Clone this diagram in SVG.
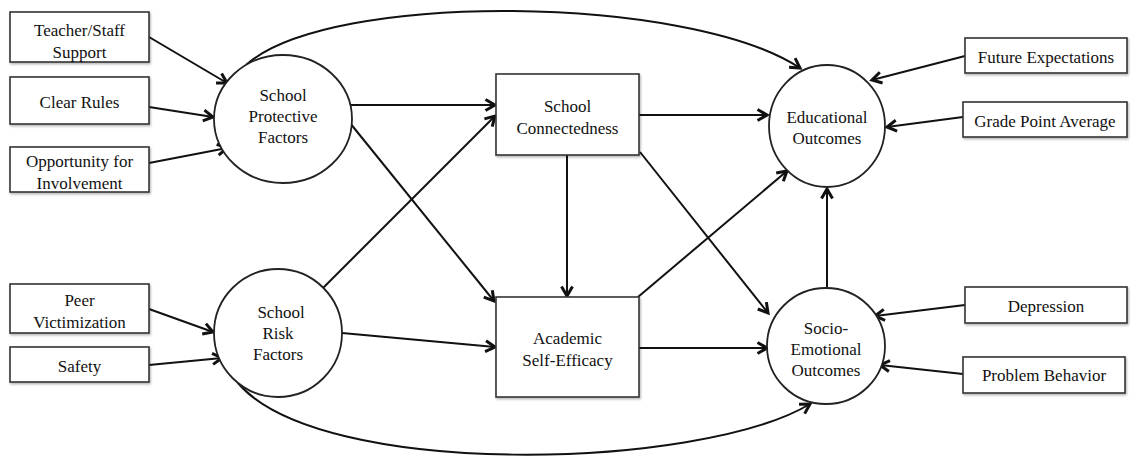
<svg xmlns="http://www.w3.org/2000/svg" width="1133" height="463" viewBox="0 0 1133 463" font-family="'Liberation Serif', serif">
  <style>
    .box { fill: #ffffff; stroke: #333333; stroke-width: 1.6; filter: url(#shadow); }
    .node { fill: #ffffff; stroke: #222222; stroke-width: 1.8; }
    .label { font-family: 'Liberation Serif', serif; font-size: 17px; fill: #111111; text-anchor: middle; }
    .edge { fill: none; stroke: #111111; stroke-width: 2; marker-end: url(#arrow); }
  </style>
  <defs>
    <filter id="shadow" x="-10%" y="-10%" width="130%" height="140%">
      <feDropShadow dx="1" dy="1.5" stdDeviation="1" flood-color="#000000" flood-opacity="0.3"/>
    </filter>
    <marker id="arrow" markerUnits="userSpaceOnUse" markerWidth="16" markerHeight="16" refX="11" refY="7" orient="auto">
      <path d="M1.5,1.5 L11,7 L1.5,12.5" fill="none" stroke="#111111" stroke-width="3" stroke-linejoin="miter"/>
    </marker>
  </defs>

  <rect width="1133" height="463" fill="#ffffff"/>

  <!-- connectors -->
  <g id="connectors">
    <!-- indicators into School Protective Factors -->
    <line class="edge" x1="149" y1="37" x2="227" y2="83"/>
    <line class="edge" x1="149" y1="107" x2="213" y2="117"/>
    <line class="edge" x1="149" y1="163" x2="227" y2="148"/>
    <!-- indicators into School Risk Factors -->
    <line class="edge" x1="149" y1="309" x2="213" y2="332"/>
    <line class="edge" x1="149" y1="365" x2="222" y2="358"/>
    <!-- latent paths -->
    <line class="edge" x1="351" y1="105" x2="495" y2="105"/>
    <line class="edge" x1="350" y1="123" x2="494" y2="301"/>
    <line class="edge" x1="323" y1="288" x2="495" y2="116"/>
    <line class="edge" x1="342" y1="333" x2="495" y2="347"/>
    <line class="edge" x1="639" y1="115" x2="767" y2="115"/>
    <line class="edge" x1="567" y1="155" x2="567" y2="296"/>
    <line class="edge" x1="640" y1="152" x2="768" y2="313"/>
    <line class="edge" x1="638" y1="297" x2="787" y2="171"/>
    <line class="edge" x1="639" y1="348" x2="767" y2="348"/>
    <line class="edge" x1="827" y1="287" x2="827" y2="189"/>
    <!-- indicators into outcomes -->
    <line class="edge" x1="965" y1="56" x2="872" y2="80"/>
    <line class="edge" x1="963" y1="117" x2="887" y2="127"/>
    <line class="edge" x1="965" y1="305" x2="875" y2="316"/>
    <line class="edge" x1="963" y1="374" x2="880" y2="365"/>
    <!-- direct paths arching over and under -->
    <path class="edge" d="M246,65 C330,-10 690,-5 800,68"/>
    <path class="edge" d="M238,383 C320,480 700,470 810,404"/>
  </g>

  <!-- indicator boxes, left -->
  <g id="teacher-staff-support">
    <rect class="box" x="10" y="12" width="139" height="50"/>
    <text class="label" x="79.5" y="36">Teacher/Staff</text>
    <text class="label" x="79.5" y="58">Support</text>
  </g>
  <g id="clear-rules">
    <rect class="box" x="10" y="77" width="139" height="47"/>
    <text class="label" x="79.5" y="108">Clear Rules</text>
  </g>
  <g id="opportunity-for-involvement">
    <rect class="box" x="10" y="147" width="139" height="45"/>
    <text class="label" x="79.5" y="167">Opportunity for</text>
    <text class="label" x="79.5" y="189">Involvement</text>
  </g>
  <g id="peer-victimization">
    <rect class="box" x="10" y="284" width="139" height="49"/>
    <text class="label" x="79.5" y="306">Peer</text>
    <text class="label" x="79.5" y="328">Victimization</text>
  </g>
  <g id="safety">
    <rect class="box" x="10" y="347" width="139" height="35"/>
    <text class="label" x="79.5" y="372">Safety</text>
  </g>

  <!-- latent factors -->
  <g id="school-protective-factors">
    <ellipse class="node" cx="283" cy="119" rx="69" ry="64"/>
    <text class="label" x="283" y="101">School</text>
    <text class="label" x="283" y="122">Protective</text>
    <text class="label" x="283" y="143">Factors</text>
  </g>
  <g id="school-risk-factors">
    <ellipse class="node" cx="278" cy="333" rx="64" ry="64"/>
    <text class="label" x="281" y="318">School</text>
    <text class="label" x="278" y="339">Risk</text>
    <text class="label" x="278" y="360">Factors</text>
  </g>

  <!-- mediators -->
  <g id="school-connectedness">
    <rect class="box" x="496" y="74" width="143" height="81"/>
    <text class="label" x="567.5" y="112">School</text>
    <text class="label" x="567.5" y="134">Connectedness</text>
  </g>
  <g id="academic-self-efficacy">
    <rect class="box" x="496" y="297" width="143" height="100"/>
    <text class="label" x="567.5" y="344">Academic</text>
    <text class="label" x="567.5" y="366">Self-Efficacy</text>
  </g>

  <!-- outcomes -->
  <g id="educational-outcomes">
    <ellipse class="node" cx="827" cy="126" rx="58" ry="61"/>
    <text class="label" x="827" y="123">Educational</text>
    <text class="label" x="827" y="144">Outcomes</text>
  </g>
  <g id="socio-emotional-outcomes">
    <ellipse class="node" cx="826" cy="346" rx="59" ry="58"/>
    <text class="label" x="826" y="334">Socio-</text>
    <text class="label" x="826" y="355">Emotional</text>
    <text class="label" x="826" y="376">Outcomes</text>
  </g>

  <!-- indicator boxes, right -->
  <g id="future-expectations">
    <rect class="box" x="965" y="38" width="162" height="35"/>
    <text class="label" x="1046" y="63">Future Expectations</text>
  </g>
  <g id="grade-point-average">
    <rect class="box" x="963" y="102" width="164" height="35"/>
    <text class="label" x="1045" y="127">Grade Point Average</text>
  </g>
  <g id="depression">
    <rect class="box" x="965" y="287" width="162" height="36"/>
    <text class="label" x="1046" y="312">Depression</text>
  </g>
  <g id="problem-behavior">
    <rect class="box" x="963" y="357" width="162" height="36"/>
    <text class="label" x="1044" y="381">Problem Behavior</text>
  </g>
</svg>
